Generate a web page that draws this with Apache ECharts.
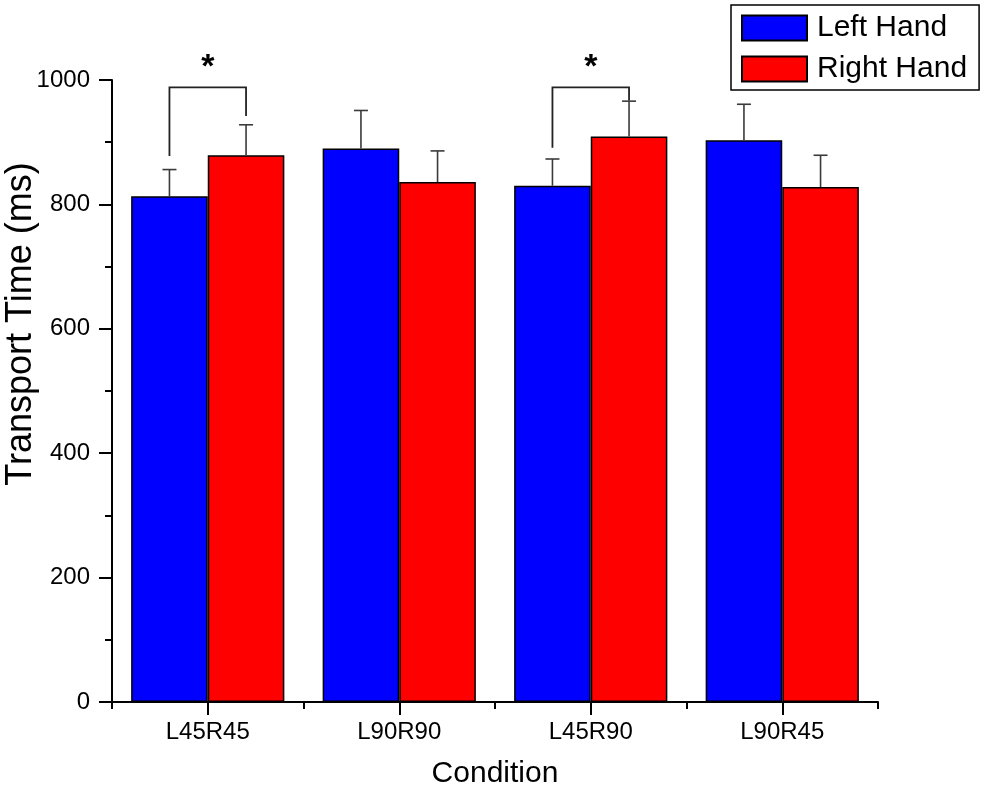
<!DOCTYPE html>
<html>
<head>
<meta charset="utf-8">
<script src="https://cdn.jsdelivr.net/npm/echarts@6/dist/echarts.min.js"></script>
<style>
  html, body { margin: 0; padding: 0; background: #fff; }
  #chart { width: 985px; height: 794px; }
</style>
</head>
<body>
<div id="chart"></div>
<script>
// data
var conditions = ['L45R45', 'L90R90', 'L45R90', 'L90R45'];
var leftHand = [813, 890, 830, 903];
var rightHand = [879, 836, 909, 828];
var leftErr = [43, 61, 43, 58];
var rightErr = [49, 50, 57, 51];
// significance brackets: category, left leg bottom, right leg bottom, top
var brackets = [[0, 878, 942, 988], [2, 891, 967, 988]];

var font = '"Liberation Sans", Arial, sans-serif';

function errData(vals, errs) {
  var out = [];
  for (var i = 0; i < vals.length; i++) {
    out.push([i, vals[i], errs[i]]);
  }
  return out;
}

function errorItem(side) {
  return function (params, api) {
    var c = api.value(0);
    var top = api.value(1);
    var err = api.value(2);
    var band = api.size([1, 0])[0];
    var x = api.coord([c, 0])[0] + side * band * 0.2;
    var y0 = api.coord([c, top])[1];
    var y1 = api.coord([c, top + err])[1];
    var st = { stroke: '#3a3a3a', lineWidth: 1.6 };
    return {
      type: 'group',
      children: [
        { type: 'line', shape: { x1: x, y1: y0, x2: x, y2: y1 }, style: st },
        { type: 'line', shape: { x1: x - 7, y1: y1, x2: x + 7, y2: y1 }, style: st }
      ]
    };
  };
}

function bracketItem(params, api) {
  var c = api.value(0);
  var band = api.size([1, 0])[0];
  var cx = api.coord([c, 0])[0];
  var xl = cx - band * 0.2;
  var xr = cx + band * 0.2;
  var yl = api.coord([c, api.value(1)])[1];
  var yr = api.coord([c, api.value(2)])[1];
  var yt = api.coord([c, api.value(3)])[1];
  return {
    type: 'group',
    children: [
      {
        type: 'polyline',
        shape: { points: [[xl, yl], [xl, yt], [xr, yt], [xr, yr]] },
        style: { stroke: '#222', lineWidth: 1.8, fill: null }
      },
      {
        type: 'text',
        style: {
          text: '*', x: cx, y: yt - 20,
          fontSize: 34, fontWeight: 'bold', fontFamily: font, fill: '#000',
          textAlign: 'center', textVerticalAlign: 'middle'
        }
      }
    ]
  };
}

var myChart = echarts.init(document.getElementById('chart'));
var option = {
  backgroundColor: '#fff',
  animation: false,
  grid: { left: 112, right: 107, top: 80, bottom: 92, outerBoundsMode: 'none', containLabel: false },
  legend: {
    data: ['Left Hand', 'Right Hand'],
    orient: 'vertical',
    icon: 'rect',
    left: 731,
    top: 5,
    padding: [8, 12, 6, 10],
    itemWidth: 65,
    itemHeight: 25,
    itemGap: 11,
    borderColor: '#000',
    borderWidth: 1.5,
    textStyle: { fontSize: 30, fontFamily: font, color: '#000', padding: [0, 0, 0, 5] }
  },
  xAxis: [{
    type: 'category',
    data: conditions,
    name: 'Condition',
    nameLocation: 'middle',
    nameGap: 57,
    nameMoveOverlap: false,
    nameTextStyle: { fontSize: 30, fontFamily: font, color: '#000' },
    axisLine: { show: true, lineStyle: { color: '#000', width: 2 } },
    axisTick: { show: true, alignWithLabel: true, length: 13, lineStyle: { color: '#000', width: 2 } },
    axisLabel: { fontSize: 24, fontFamily: font, color: '#000', margin: 18 }
  }, {
    type: 'category',
    data: conditions,
    position: 'bottom',
    axisLine: { show: false },
    axisTick: { show: true, length: 7, lineStyle: { color: '#000', width: 2 } },
    axisLabel: { show: false }
  }],
  yAxis: {
    type: 'value',
    min: 0,
    max: 1000,
    interval: 200,
    name: 'Transport Time (ms)',
    nameLocation: 'middle',
    nameGap: 73,
    nameMoveOverlap: false,
    nameTextStyle: { fontSize: 36, fontFamily: font, color: '#000', padding: [0, 0, 0, 134] },
    axisLine: { show: true, lineStyle: { color: '#000', width: 2 } },
    axisTick: { show: true, length: 13, lineStyle: { color: '#000', width: 2 } },
    minorTick: { show: true, splitNumber: 2, length: 7, lineStyle: { color: '#000', width: 2 } },
    splitLine: { show: false },
    axisLabel: {
      fontSize: 24, fontFamily: font, color: '#000', margin: 22,
      formatter: function (v) { return String(v); }
    }
  },
  series: [{
    name: 'Left Hand',
    type: 'bar',
    data: leftHand,
    barGap: '0%',
    barCategoryGap: '20%',
    itemStyle: { color: '#0000ff', borderColor: '#000', borderWidth: 1.5 }
  }, {
    name: 'Right Hand',
    type: 'bar',
    data: rightHand,
    barGap: '0%',
    barCategoryGap: '20%',
    itemStyle: { color: '#ff0000', borderColor: '#000', borderWidth: 1.5 }
  }, {
    type: 'custom',
    renderItem: errorItem(-1),
    data: errData(leftHand, leftErr),
    z: 3
  }, {
    type: 'custom',
    renderItem: errorItem(1),
    data: errData(rightHand, rightErr),
    z: 3
  }, {
    type: 'custom',
    renderItem: bracketItem,
    data: brackets,
    clip: false,
    z: 4
  }]
};
myChart.setOption(option);
</script>
</body>
</html>
